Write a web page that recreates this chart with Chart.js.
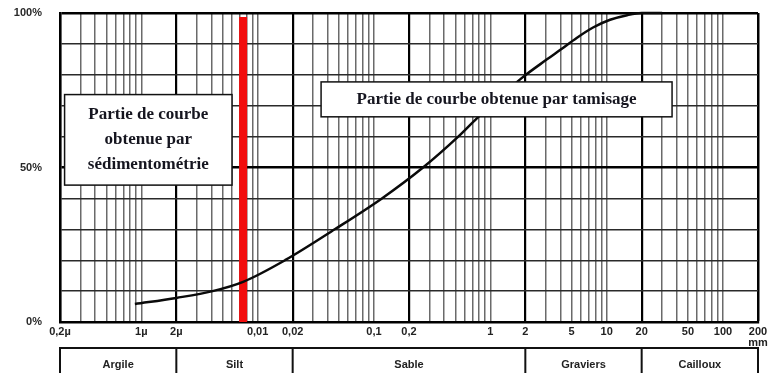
<!DOCTYPE html>
<html>
<head>
<meta charset="utf-8">
<script src="https://cdn.jsdelivr.net/npm/chart.js@4"></script>
<style>
html,body{margin:0;padding:0;background:#fff;}
#wrap{width:769px;height:373px;position:relative;}
</style>
</head>
<body>
<div id="wrap"><canvas id="c" width="769" height="373"></canvas></div>
<script>
// ---- data ----
const curveDiam = [0.00088, 0.002, 0.0041, 0.0075, 0.0172, 0.046, 0.117, 0.264, 0.53, 0.77, 1.87, 3.07, 3.97, 5.56, 7.64, 10.7, 15, 20, 30];
const curvePct  = [5.8, 7.8, 10, 13, 20, 30, 40, 50, 60, 66, 79, 85, 88, 92, 95.3, 97.8, 99.3, 100, 100];

const redDiam = [0.0075, 0.0075];
const redPct  = [0, 98.7];

const labelValues = [0.0002, 0.001, 0.002, 0.01, 0.02, 0.1, 0.2, 1, 2, 5, 10, 20, 50, 100, 200];
const labelTexts  = ['0,2µ', '1µ', '2µ', '0,01', '0,02', '0,1', '0,2', '1', '2', '5', '10', '20', '50', '100', ['200', 'mm']];
const majorValues = [0.0002, 0.002, 0.02, 0.2, 2, 20, 200];
const minorMultipliers = [3, 4, 5, 6, 7, 8, 9, 10];

const classBounds = [0.0002, 0.002, 0.02, 2, 20, 200];
const classNames  = ['Argile', 'Silt', 'Sable', 'Graviers', 'Cailloux'];

const yLabelValues = [0, 50, 100];

const noteLeft  = { lines: ['Partie de courbe', 'obtenue par', 'sédimentométrie'], x0: 0.000219, x1: 0.00602, y0: 73.6, y1: 44.3 };
const noteRight = { lines: ['Partie de courbe obtenue par tamisage'], x0: 0.0351, x1: 36.5, y0: 77.7, y1: 66.4 };

// ---- build tick list ----
const xTickValues = [];
for (let i = 0; i < majorValues.length; i++) {
  xTickValues.push(majorValues[i]);
  if (i < majorValues.length - 1) {
    const base = majorValues[i] / 2;
    minorMultipliers.forEach(m => xTickValues.push(+(base * m).toPrecision(6)));
  }
}
const same = (a, b) => Math.abs(Math.log10(a) - Math.log10(b)) < 1e-6;
const isMajor = v => majorValues.some(m => same(m, v));

const tableAndNotes = {
  id: 'tableAndNotes',
  afterDatasetsDraw(chart) {
    const ctx = chart.ctx, xs = chart.scales.x, ys = chart.scales.y;
    const drawNote = (n) => {
      const l = xs.getPixelForValue(n.x0), r = xs.getPixelForValue(n.x1);
      const t = ys.getPixelForValue(n.y0), b = ys.getPixelForValue(n.y1);
      ctx.save();
      ctx.fillStyle = '#fff';
      ctx.fillRect(l, t, r - l, b - t);
      ctx.strokeStyle = '#111';
      ctx.lineWidth = 1.5;
      ctx.strokeRect(l, t, r - l, b - t);
      ctx.fillStyle = '#15151f';
      ctx.font = 'bold 17px "Liberation Serif", "Times New Roman", serif';
      ctx.textAlign = 'center';
      ctx.textBaseline = 'middle';
      const lh = 25;
      const cy = (t + b) / 2, cx = (l + r) / 2;
      n.lines.forEach((s, i) => {
        ctx.fillText(s, cx, cy + (i - (n.lines.length - 1) / 2) * lh);
      });
      ctx.restore();
    };
    drawNote(noteLeft);
    drawNote(noteRight);
  },
  afterDraw(chart) {
    const ctx = chart.ctx, xs = chart.scales.x;
    const top = chart.chartArea.bottom + 26;
    const bottom = chart.height + 2;
    ctx.save();
    ctx.strokeStyle = '#111';
    ctx.lineWidth = 2;
    const xl = xs.getPixelForValue(classBounds[0]);
    const xr = xs.getPixelForValue(classBounds[classBounds.length - 1]);
    ctx.beginPath();
    ctx.moveTo(xl - 1, top);
    ctx.lineTo(xr + 1, top);
    classBounds.forEach(v => {
      const p = xs.getPixelForValue(v);
      ctx.moveTo(p, top);
      ctx.lineTo(p, bottom);
    });
    ctx.stroke();
    ctx.fillStyle = '#222';
    ctx.font = 'bold 11px "Liberation Sans", Arial, sans-serif';
    ctx.textAlign = 'center';
    ctx.textBaseline = 'middle';
    classNames.forEach((name, i) => {
      const a = xs.getPixelForValue(classBounds[i]);
      const b = xs.getPixelForValue(classBounds[i + 1]);
      ctx.fillText(name, (a + b) / 2, top + 17);
    });
    ctx.restore();
  }
};

new Chart(document.getElementById('c'), {
  type: 'line',
  data: {
    datasets: [
      {
        data: redDiam.map((d, i) => ({ x: d, y: redPct[i] })),
        borderColor: '#f20d0d',
        borderWidth: 8,
        borderCapStyle: 'butt',
        pointRadius: 0,
        order: 2
      },
      {
        data: curveDiam.map((d, i) => ({ x: d, y: curvePct[i] })),
        borderColor: '#0a0a0a',
        borderWidth: 2.5,
        cubicInterpolationMode: 'monotone',
        pointRadius: 0,
        clip: false,
        order: 1
      }
    ]
  },
  options: {
    responsive: false,
    animation: false,
    events: [],
    layout: { padding: { top: 13, right: 11, left: 0, bottom: 0 } },
    plugins: { legend: { display: false }, tooltip: { enabled: false } },
    scales: {
      x: {
        type: 'logarithmic',
        min: 0.0002,
        max: 200,
        afterBuildTicks(scale) { scale.ticks = xTickValues.map(v => ({ value: v })); },
        afterFit(scale) { scale.height = 51; },
        border: { display: true, color: '#000', width: 2.5 },
        grid: {
          drawTicks: true,
          tickLength: 3,
          tickColor: 'rgba(0,0,0,0)',
          color: ctx => (ctx.tick && isMajor(ctx.tick.value)) ? '#000' : '#6a6a6a',
          lineWidth: ctx => {
            if (!ctx.tick) return 1.5;
            if (same(ctx.tick.value, 200)) return 2.5;
            return isMajor(ctx.tick.value) ? 2.2 : 1.5;
          }
        },
        ticks: {
          autoSkip: false,
          maxRotation: 0,
          minRotation: 0,
          padding: 1,
          color: '#222',
          font: { family: '"Liberation Sans", Arial, sans-serif', size: 11, weight: 'bold', lineHeight: 1.0 },
          callback(value) {
            const i = labelValues.findIndex(v => same(v, value));
            return i >= 0 ? labelTexts[i] : '';
          }
        }
      },
      y: {
        min: 0,
        max: 100,
        afterFit(scale) { scale.width = 60; },
        border: { display: true, color: '#000', width: 2.5 },
        grid: {
          drawTicks: true,
          tickLength: 16,
          tickColor: 'rgba(0,0,0,0)',
          color: ctx => (ctx.tick && (ctx.tick.value === 50 || ctx.tick.value === 100)) ? '#000' : '#2a2a2a',
          lineWidth: ctx => (ctx.tick && (ctx.tick.value === 50 || ctx.tick.value === 100)) ? 2.5 : 1.4
        },
        ticks: {
          stepSize: 10,
          padding: 2,
          color: '#2a2a2a',
          font: { family: '"Liberation Sans", Arial, sans-serif', size: 11, weight: 'bold' },
          callback(value) { return yLabelValues.includes(value) ? value + '%' : ''; }
        }
      }
    }
  },
  plugins: [tableAndNotes]
});
</script>
</body>
</html>
